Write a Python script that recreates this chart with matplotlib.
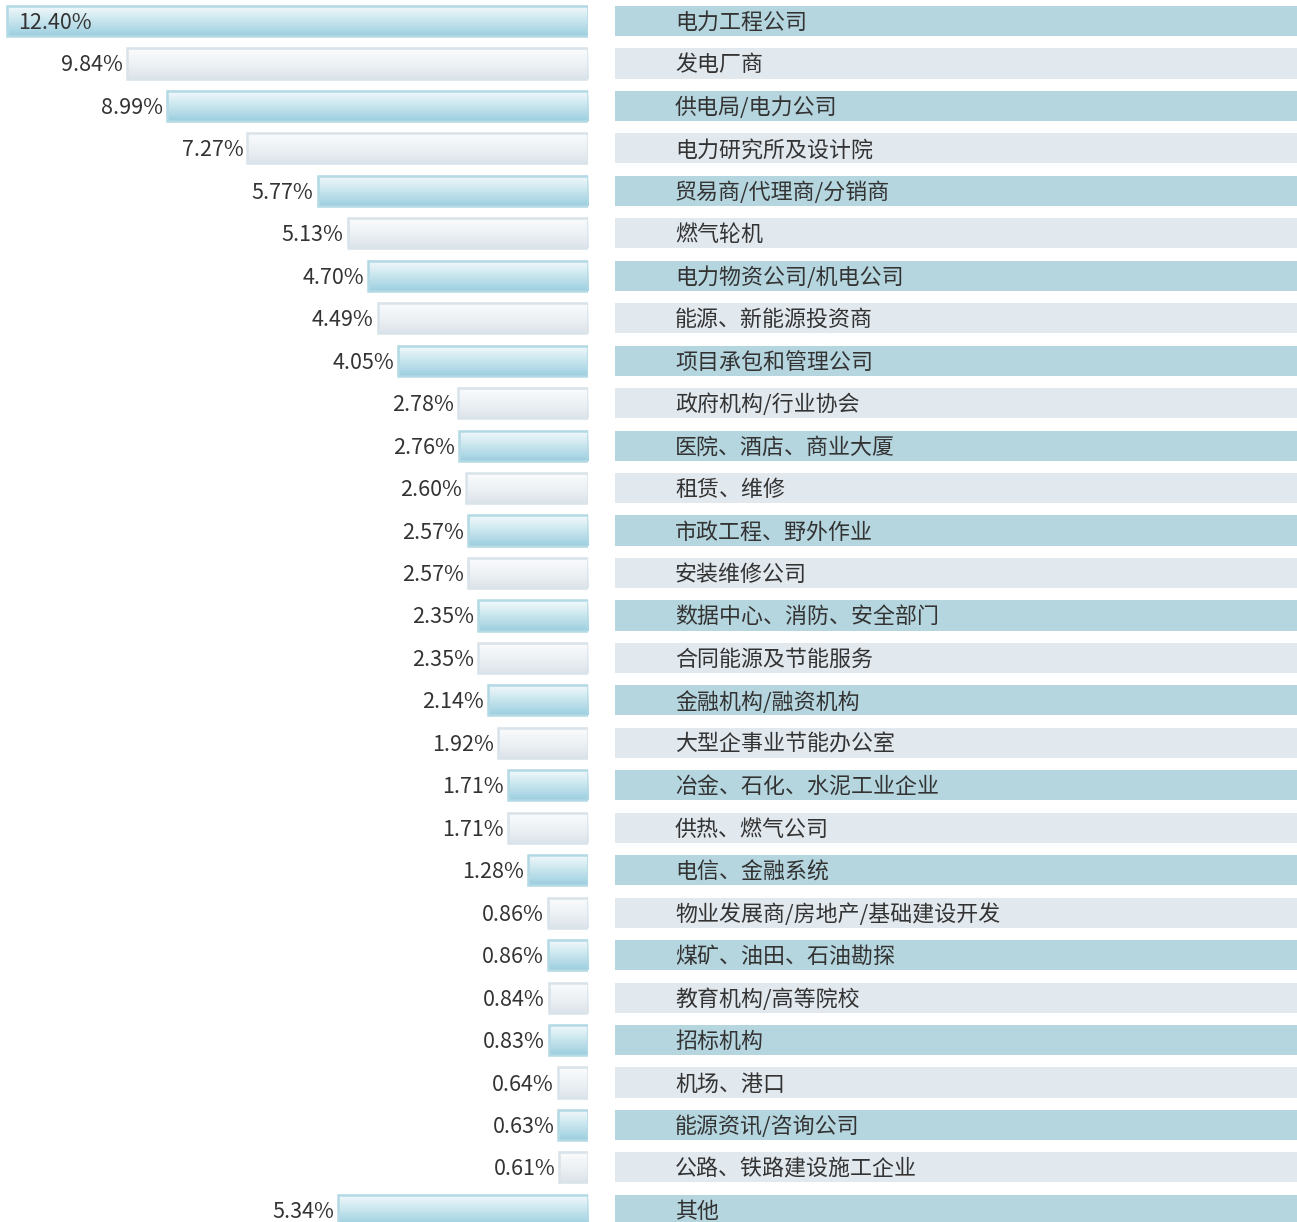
import numpy as np
import matplotlib
matplotlib.use("Agg")
import matplotlib.pyplot as plt
from matplotlib.colors import LinearSegmentedColormap

plt.rcParams['font.family'] = ['Noto Sans CJK SC', 'DejaVu Sans']

categories = [
    "电力工程公司", "发电厂商", "供电局/电力公司", "电力研究所及设计院",
    "贸易商/代理商/分销商", "燃气轮机", "电力物资公司/机电公司", "能源、新能源投资商",
    "项目承包和管理公司", "政府机构/行业协会", "医院、酒店、商业大厦", "租赁、维修",
    "市政工程、野外作业", "安装维修公司", "数据中心、消防、安全部门", "合同能源及节能服务",
    "金融机构/融资机构", "大型企事业节能办公室", "冶金、石化、水泥工业企业", "供热、燃气公司",
    "电信、金融系统", "物业发展商/房地产/基础建设开发", "煤矿、油田、石油勘探", "教育机构/高等院校",
    "招标机构", "机场、港口", "能源资讯/咨询公司", "公路、铁路建设施工企业", "其他",
]
values = [
    12.40, 9.84, 8.99, 7.27, 5.77, 5.13, 4.70, 4.49, 4.05, 2.78,
    2.76, 2.60, 2.57, 2.57, 2.35, 2.35, 2.14, 1.92, 1.71, 1.71,
    1.28, 0.86, 0.86, 0.84, 0.83, 0.64, 0.63, 0.61, 5.34,
]

W, H = 1297, 1222
fig = plt.figure(figsize=(W / 100, H / 100), dpi=100)

# shared row geometry (pixels)
row_top, row_pitch = 21, 42.46
y_lim = ((H - row_top) / row_pitch, -row_top / row_pitch)
bar_h = 0.71
text_dy = 2 / row_pitch  # nudge CJK text down a little
n = len(values)
rows = np.arange(n)

blue_cmap = LinearSegmentedColormap.from_list("b", ["#f4fafc", "#c9e6ee", "#9ccfdf"])
gray_cmap = LinearSegmentedColormap.from_list("g", ["#fbfcfd", "#eef2f5", "#dde4ea"])
grad = np.linspace(0, 1, 64).reshape(-1, 1)

# left panel: gradient bars growing leftwards from x=588px
bar_right = 588
ax1 = fig.add_axes([0, 0, bar_right / W, 1])
px_per_pct = (bar_right - 7) / values[0]
for i, v in enumerate(values):
    blue = i % 2 == 0
    ax1.imshow(grad, cmap=blue_cmap if blue else gray_cmap, aspect='auto',
               extent=(0, v, i + bar_h / 2, i - bar_h / 2), origin='upper',
               interpolation='bilinear', zorder=1)
    ax1.barh(i, v, height=bar_h, fill=False,
             edgecolor="#b3d9e4" if blue else "#d8e3ea", linewidth=1.8, zorder=2)
    label = f"{v:.2f}%"
    if i == 0:
        ax1.text(v - 11 / px_per_pct, i + text_dy, label, ha='left', va='center',
                 fontsize=15.5, color="#333333", zorder=3)
    else:
        ax1.text(v + 4 / px_per_pct, i + text_dy, label, ha='right', va='center',
                 fontsize=15.5, color="#333333", zorder=3)
ax1.set_xlim(bar_right / px_per_pct, 0)
ax1.set_ylim(*y_lim)
ax1.axis('off')

# right panel: category bands
band_left = 615
ax2 = fig.add_axes([band_left / W, 0, (W - band_left) / W, 1])
band_colors = ["#b5d5df" if i % 2 == 0 else "#e1e8ee" for i in rows]
ax2.barh(rows, [1] * n, height=bar_h, left=0, color=band_colors)
for i, c in enumerate(categories):
    ax2.text(60 / (W - band_left), i + text_dy, c, ha='left', va='center',
             fontsize=15.8, color="#333333")
ax2.set_xlim(0, 1)
ax2.set_ylim(*y_lim)
ax2.axis('off')

fig.savefig("out.png", dpi=100)
